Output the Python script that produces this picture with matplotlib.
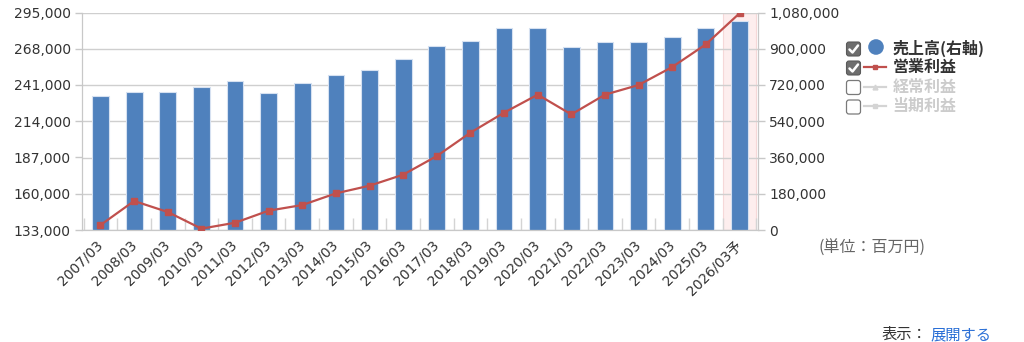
import numpy as np
import matplotlib as mpl
mpl.use('Agg')
import matplotlib.pyplot as plt
from matplotlib.patches import FancyBboxPatch, Circle
from matplotlib.ticker import FuncFormatter

plt.rcParams['font.family'] = ['DejaVu Sans', 'Noto Sans CJK JP']

# Data (百万円)
years = ['2007/03', '2008/03', '2009/03', '2010/03', '2011/03', '2012/03', '2013/03',
         '2014/03', '2015/03', '2016/03', '2017/03', '2018/03', '2019/03', '2020/03',
         '2021/03', '2022/03', '2023/03', '2024/03', '2025/03', '2026/03予']
sales = [665000, 685000, 685000, 711000, 738000, 679000, 731000, 770000, 796000, 847000,
         914000, 940000, 1005000, 1005000, 907000, 932000, 932000, 958000, 1005000, 1038000]
op_profit = [136700, 154600, 146400, 134000, 138400, 147400, 151600, 160300, 166000, 174200,
             188100, 205500, 220400, 233800, 219100, 233800, 241000, 254400, 271300, 294400]

W, H = 1024, 342
fig = plt.figure(figsize=(W / 100, H / 100), dpi=100)
fig.patch.set_facecolor('white')

left, right, top, bottom = 82, 758, 12.5, 230
ax = fig.add_axes([left / W, 1 - bottom / H, (right - left) / W, (bottom - top) / H])
ax2 = ax.twinx()
x = np.arange(len(years))

# forecast highlight
ax.axvspan(18.5, 19.5, facecolor='#fdeeee', edgecolor='#f6d8d8', lw=0.8, zorder=0)

# sales bars (right axis)
ax.bar(x, sales, width=0.5, color='#4f81bd', edgecolor='#d6e1f1', linewidth=0.8, zorder=2)
ax.set_ylim(0, 1080000)
ax.set_yticks(np.arange(0, 1080001, 180000))
ax.yaxis.set_major_formatter(FuncFormatter(lambda v, p: '{:,}'.format(int(v))))
ax.grid(axis='y', color='#cfcfcf', lw=1, zorder=0.5)
ax.set_axisbelow(True)
ax.set_xlim(-0.55, 19.55)

# operating profit line (left axis)
ax2.plot(x, op_profit, color='#c0504d', lw=1.6, marker='s', ms=4, zorder=5)
ax2.set_ylim(133000, 295000)
ax2.set_yticks(np.arange(133000, 295001, 27000))
ax2.yaxis.set_major_formatter(FuncFormatter(lambda v, p: '{:,}'.format(int(v))))

ax.yaxis.tick_right()
ax2.yaxis.tick_left()

for a in (ax, ax2):
    for s in a.spines.values():
        s.set_color('#c8c8c8')
    a.spines['top'].set_visible(False)
    a.tick_params(axis='y', colors='#c8c8c8', labelcolor='#333333', labelsize=10, length=5, width=1, pad=3)

ax.set_xticks(x)
ax.set_xticklabels(years, rotation=45, ha='right', va='center', rotation_mode='anchor',
                   fontsize=10, color='#333333')
ax.tick_params(axis='x', which='major', length=0, pad=9)
ax.set_xticks(np.arange(-0.5, 19.6, 1), minor=True)
ax.tick_params(axis='x', which='minor', direction='in', length=9, color='#d4d4d4', width=1)

# overlay in pixel coordinates for legend and notes
ov = fig.add_axes([0, 0, 1, 1], zorder=10)
ov.set_xlim(0, W)
ov.set_ylim(H, 0)
ov.axis('off')
ov.patch.set_alpha(0)

jp = ['Noto Sans CJK JP', 'DejaVu Sans']
rows = [
    (49, True, 'circle', '#4f81bd', '売上高(右軸)', '#333333'),
    (68, True, 'square', '#c0504d', '営業利益', '#333333'),
    (87.5, False, 'tri', '#d4d4d4', '経常利益', '#cccccc'),
    (107, False, 'dot', '#d4d4d4', '当期利益', '#cccccc'),
]
for cy, checked, mk, col, label, tcol in rows:
    if checked:
        ov.add_patch(FancyBboxPatch((846.5, cy - 7), 14, 14, boxstyle='round,pad=0,rounding_size=2.5',
                                    facecolor='#6e6e6e', edgecolor='#5a5a5a', lw=0.8))
        ov.plot([849.5, 852.5, 858], [cy + 0.5, cy + 3.5, cy - 3.5], color='white', lw=1.8,
                solid_capstyle='round', solid_joinstyle='round')
    else:
        ov.add_patch(FancyBboxPatch((846.5, cy - 7), 14, 14, boxstyle='round,pad=0,rounding_size=2.5',
                                    facecolor='white', edgecolor='#7a7a7a', lw=0.9))
    if mk == 'circle':
        ov.add_patch(Circle((876, cy - 2), 7.8, facecolor='#4f81bd', edgecolor='none'))
    else:
        ov.plot([864, 886], [cy - 1, cy - 1], color=col, lw=1.6)
        m = {'square': 's', 'tri': '^', 'dot': 's'}[mk]
        ov.plot([875], [cy - 1], marker=m, ms=3.5, color=col, lw=0)
    ov.text(892.5, cy - 1, label, fontsize=11.5, fontweight='bold', color=tcol,
            ha='left', va='center', family=jp)

ov.text(819, 248, '(単位：百万円)', fontsize=11.5, color='#666666', ha='left', va='center', family=jp)
ov.text(882, 326, '表示：', fontsize=11, color='#333333', ha='left', va='top', family=jp)
ov.text(930, 326, '展開する', fontsize=11, color='#2a6fd6', ha='left', va='top', family=jp)

fig.savefig('out.png', dpi=100)
